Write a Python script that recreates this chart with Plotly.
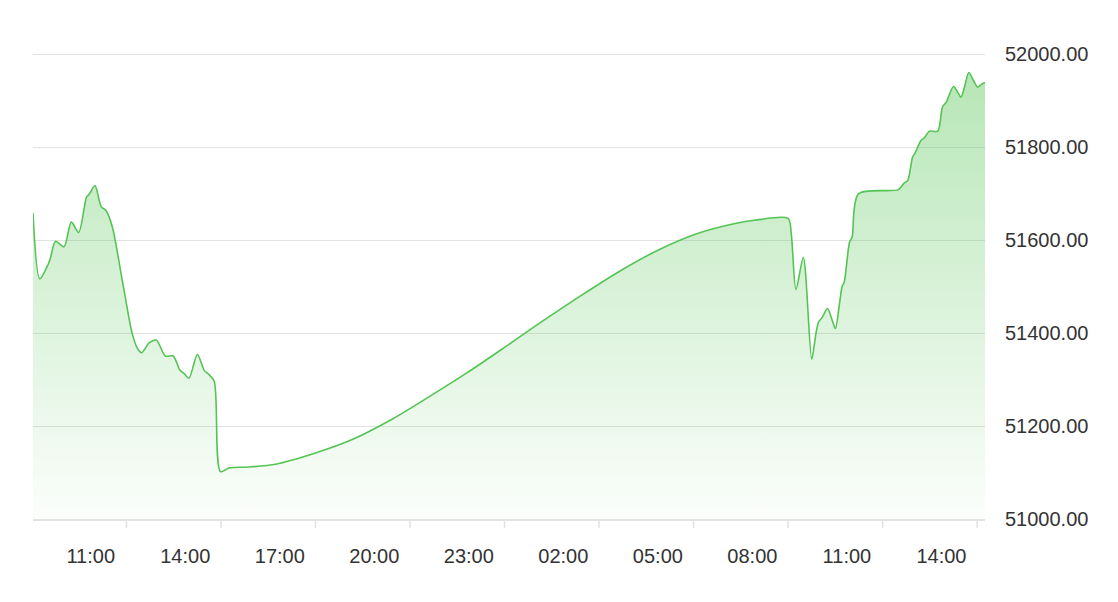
import plotly.graph_objects as go

D1 = "2024-01-01 "
D2 = "2024-01-02 "

day1_times = ["09:10", "09:23", "09:38", "09:43", "09:53", "10:09", "10:23", "10:37", "10:52", "10:57",
              "11:08", "11:20", "11:29", "11:41", "12:00", "12:19", "12:29", "12:37", "12:51", "13:05",
              "13:22", "13:37", "13:50", "13:58", "14:07", "14:23", "14:36", "14:44", "14:55", "15:07",
              "15:24", "16:01", "16:52", "18:05", "19:18", "20:31", "21:44", "22:57"]
day1_values = [51659, 51517, 51546, 51561, 51598, 51586, 51639, 51617, 51693, 51699,
               51718, 51672, 51664, 51629, 51514, 51399, 51367, 51358, 51379, 51385,
               51351, 51351, 51320, 51313, 51303, 51354, 51320, 51312, 51297, 51102,
               51110, 51112, 51118, 51141, 51171, 51213, 51263, 51315]

day2_times = ["00:10", "01:23", "02:35", "03:48", "05:01", "06:14", "07:27", "08:04", "09:08", "09:14",
              "09:23", "09:37", "09:53", "10:01", "10:06", "10:13", "10:23", "10:32", "10:38", "10:46",
              "10:51", "10:55", "11:05", "11:10", "11:22", "12:38", "12:49", "12:56", "13:05", "13:10",
              "13:21", "13:28", "13:37", "13:53", "14:02", "14:09", "14:23", "14:31", "14:37", "14:44",
              "14:52", "15:01", "15:09", "15:17", "15:23"]
day2_values = [51371, 51428, 51482, 51534, 51579, 51614, 51636, 51643, 51647, 51615,
               51494, 51563, 51344, 51399, 51424, 51434, 51453, 51428, 51410, 51464,
               51501, 51510, 51596, 51607, 51700, 51709, 51723, 51729, 51779, 51788,
               51815, 51821, 51835, 51835, 51887, 51897, 51931, 51919, 51908, 51930,
               51961, 51944, 51930, 51936, 51940]

tick_label_times = [D1 + "11:00", D1 + "14:00", D1 + "17:00", D1 + "20:00", D1 + "23:00",
                    D2 + "02:00", D2 + "05:00", D2 + "08:00", D2 + "11:00", D2 + "14:00"]
tick_labels = ["11:00", "14:00", "17:00", "20:00", "23:00", "02:00", "05:00", "08:00", "11:00", "14:00"]
tick_mark_times = [D1 + "12:08", D1 + "15:08", D1 + "18:08", D1 + "21:08", D2 + "00:08",
                   D2 + "03:08", D2 + "06:08", D2 + "09:08", D2 + "12:08", D2 + "15:08"]

y_ticks = [51000, 51200, 51400, 51600, 51800, 52000]
y_tick_labels = ["51000.00", "51200.00", "51400.00", "51600.00", "51800.00", "52000.00"]

times = [D1 + t for t in day1_times] + [D2 + t for t in day2_times]
values = day1_values + day2_values

GREEN = "84,196,84"
GRID = "#e2e2e2"

fig = go.Figure()
fig.add_trace(go.Scatter(
    x=times, y=values, mode="lines",
    line=dict(color=f"rgb({GREEN})", width=1.6, shape="spline", smoothing=0.8),
    fill="tozeroy",
    fillgradient=dict(type="vertical", start=51000, stop=52000,
                      colorscale=[[0, f"rgba({GREEN},0.02)"], [1, f"rgba({GREEN},0.44)"]]),
    hoverinfo="skip",
))

for t in tick_mark_times:
    fig.add_shape(type="line", xref="x", yref="paper", x0=t, x1=t, y0=0, y1=-9 / 465,
                  line=dict(color=GRID, width=1.5))

# top gridline (plotly drops the gridline lying on the range edge)
fig.add_shape(type="line", xref="paper", yref="y", x0=0, x1=1, y0=y_ticks[-1], y1=y_ticks[-1],
              line=dict(color=GRID, width=1), layer="below")

fig.update_layout(
    width=1102, height=586,
    margin=dict(l=25, r=125, t=46, b=75),
    paper_bgcolor="white", plot_bgcolor="white",
    showlegend=False,
    font=dict(family="Liberation Sans, Arial, Helvetica, sans-serif", size=20, color="#333333"),
    xaxis=dict(
        type="date", range=[times[0], times[-1]],
        tickmode="array", tickvals=tick_label_times, ticktext=tick_labels,
        ticks="", showgrid=False, showline=True, linecolor=GRID, linewidth=1.5,
        ticklabelstandoff=18, zeroline=False,
    ),
    yaxis=dict(
        side="right", range=[51000, 52001],
        tickmode="array", tickvals=y_ticks, ticktext=y_tick_labels,
        showgrid=True, gridcolor=GRID, gridwidth=1, zeroline=False,
        ticks="", ticklabelstandoff=19, showline=False,
    ),
)

fig.write_html("out.html")
